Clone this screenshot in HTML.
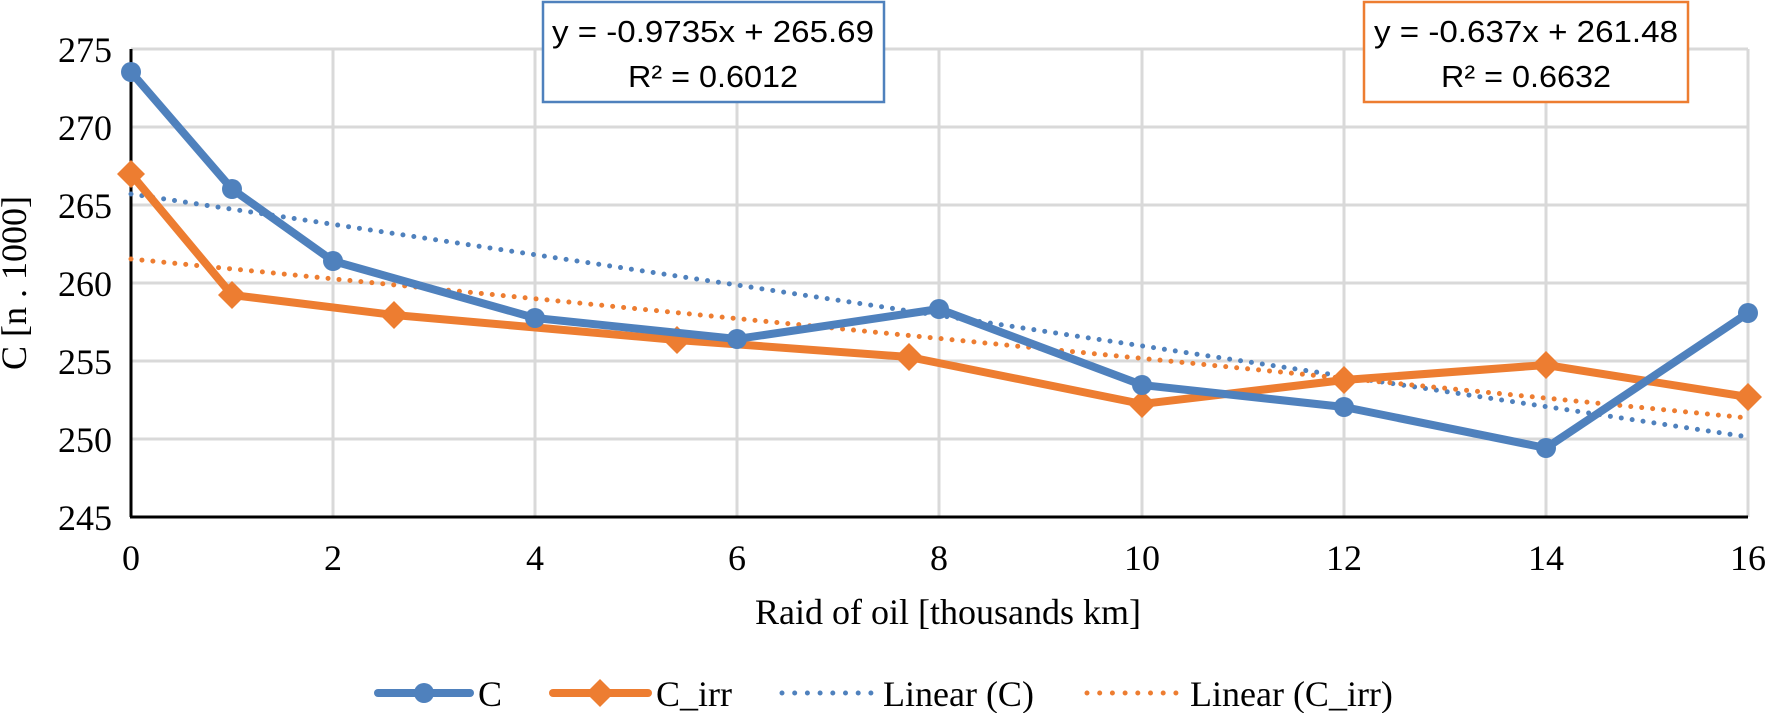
<!DOCTYPE html>
<html><head><meta charset="utf-8"><style>
html,body{margin:0;padding:0;background:#fff}
svg{display:block}
.t{font-family:"Liberation Serif",serif;fill:#000}
.e{font-family:"Liberation Sans",sans-serif;fill:#000}
</style></head><body>
<svg width="1766" height="713" viewBox="0 0 1766 713" xmlns="http://www.w3.org/2000/svg">
<g stroke="#d9d9d9" stroke-width="3">
<line x1="131" y1="49" x2="1748" y2="49"/>
<line x1="131" y1="127" x2="1748" y2="127"/>
<line x1="131" y1="205" x2="1748" y2="205"/>
<line x1="131" y1="283" x2="1748" y2="283"/>
<line x1="131" y1="361" x2="1748" y2="361"/>
<line x1="131" y1="439" x2="1748" y2="439"/>
<line x1="333" y1="49" x2="333" y2="517"/>
<line x1="535" y1="49" x2="535" y2="517"/>
<line x1="737" y1="49" x2="737" y2="517"/>
<line x1="939" y1="49" x2="939" y2="517"/>
<line x1="1142" y1="49" x2="1142" y2="517"/>
<line x1="1344" y1="49" x2="1344" y2="517"/>
<line x1="1546" y1="49" x2="1546" y2="517"/>
<line x1="1748" y1="49" x2="1748" y2="517"/>
</g>
<polyline points="131,517 131,49" stroke="#000" stroke-width="3" fill="none"/>
<line x1="130" y1="517" x2="1748" y2="517" stroke="#000" stroke-width="3"/>
<g class="t" font-size="36" text-anchor="end">
<text x="112" y="62">275</text><text x="112" y="140">270</text><text x="112" y="218">265</text>
<text x="112" y="296">260</text><text x="112" y="374">255</text><text x="112" y="452">250</text><text x="112" y="530">245</text>
</g>
<g class="t" font-size="36" text-anchor="middle">
<text x="131" y="570">0</text><text x="333" y="570">2</text><text x="535" y="570">4</text><text x="737" y="570">6</text>
<text x="939" y="570">8</text><text x="1142" y="570">10</text><text x="1344" y="570">12</text><text x="1546" y="570">14</text><text x="1748" y="570">16</text>
<text x="948" y="624">Raid of oil [thousands km]</text>
<text transform="translate(26,283) rotate(-90)">C [n . 1000]</text>
</g>
<line x1="131" y1="194" x2="1748" y2="437" stroke="#4f81bd" stroke-width="5" stroke-dasharray="0 11" stroke-linecap="round"/>
<line x1="131" y1="259" x2="1748" y2="418" stroke="#ed7d31" stroke-width="5" stroke-dasharray="0 11" stroke-linecap="round"/>
<polyline fill="none" stroke="#ed7d31" stroke-width="8" stroke-linejoin="round"
 points="131,174 232,295 394,315 677,340 909,357 1142,404 1344,380 1546,365 1748,397"/>
<g fill="#ed7d31">
<path d="M131,160 l14,14 -14,14 -14,-14z"/><path d="M232,281 l14,14 -14,14 -14,-14z"/>
<path d="M394,301 l14,14 -14,14 -14,-14z"/><path d="M677,326 l14,14 -14,14 -14,-14z"/>
<path d="M909,343 l14,14 -14,14 -14,-14z"/><path d="M1142,390 l14,14 -14,14 -14,-14z"/>
<path d="M1344,366 l14,14 -14,14 -14,-14z"/><path d="M1546,351 l14,14 -14,14 -14,-14z"/>
<path d="M1748,383 l14,14 -14,14 -14,-14z"/>
</g>
<polyline fill="none" stroke="#4f81bd" stroke-width="8" stroke-linejoin="round"
 points="131,72 232,189 333,261 535,318 737,339 939,309 1142,385 1344,407 1546,448 1748,313"/>
<g fill="#4f81bd">
<circle cx="131" cy="72" r="10"/><circle cx="232" cy="189" r="10"/><circle cx="333" cy="261" r="10"/>
<circle cx="535" cy="318" r="10"/><circle cx="737" cy="339" r="10"/><circle cx="939" cy="309" r="10"/>
<circle cx="1142" cy="385" r="10"/><circle cx="1344" cy="407" r="10"/><circle cx="1546" cy="448" r="10"/>
<circle cx="1748" cy="313" r="10"/>
</g>
<rect x="543" y="2" width="341" height="100" fill="#fff" stroke="#4f81bd" stroke-width="2.5"/>
<rect x="1364" y="2" width="324" height="100" fill="#fff" stroke="#ed7d31" stroke-width="2.5"/>
<g class="e" font-size="31" text-anchor="middle">
<text x="713" y="42" textLength="322" lengthAdjust="spacingAndGlyphs">y = -0.9735x + 265.69</text>
<text x="713" y="87" textLength="170" lengthAdjust="spacingAndGlyphs">R² = 0.6012</text>
<text x="1526" y="42" textLength="304" lengthAdjust="spacingAndGlyphs">y = -0.637x + 261.48</text>
<text x="1526" y="87" textLength="170" lengthAdjust="spacingAndGlyphs">R² = 0.6632</text>
</g>
<line x1="378" y1="693" x2="470" y2="693" stroke="#4f81bd" stroke-width="8" stroke-linecap="round"/>
<circle cx="424" cy="693" r="10" fill="#4f81bd"/>
<line x1="553" y1="693" x2="648" y2="693" stroke="#ed7d31" stroke-width="8" stroke-linecap="round"/>
<path d="M600,679 l14,14 -14,14 -14,-14z" fill="#ed7d31"/>
<line x1="782" y1="693" x2="871" y2="693" stroke="#4f81bd" stroke-width="5" stroke-dasharray="0 12.7" stroke-linecap="round"/>
<line x1="1087" y1="693" x2="1176" y2="693" stroke="#ed7d31" stroke-width="5" stroke-dasharray="0 12.7" stroke-linecap="round"/>
<g class="t" font-size="36">
<text x="478" y="706">C</text>
<text x="656" y="706">C_irr</text>
<text x="883" y="706">Linear (C)</text>
<text x="1190" y="706">Linear (C_irr)</text>
</g>
</svg>
</body></html>
